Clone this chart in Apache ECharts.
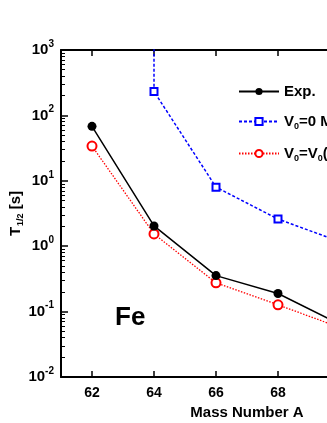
<!DOCTYPE html>
<html><head><meta charset="utf-8">
<script src="https://cdn.jsdelivr.net/npm/echarts@6/dist/echarts.min.js"></script>
<style>html,body{margin:0;padding:0;background:#fff}#c{width:327px;height:423px}</style>
</head><body><div id="c"></div>
<script>
const massNumbers = [62, 64, 66, 68, 70];
const expValues = [68, 2.04, 0.355, 0.189, 0.064];
const v0ZeroMass = [64, 64, 66, 68, 70];
const v0ZeroValues = [1e6, 232, 8.0, 2.6, 1.17];
const v0VarValues = [34, 1.54, 0.275, 0.127, 0.057];
const xTicks = [62, 64, 66, 68, 70, 72];
const seriesNames = ['Exp.', 'V0=0 MeV', 'V0=V0(A)'];

const FONT = 'Liberation Sans, Arial, sans-serif';
const minorTicks = [];
for (let d = -2; d < 3; d++) for (let k = 2; k <= 9; k++) minorTicks.push(Math.log10(k) + d);

const chart = echarts.init(document.getElementById('c'));
const bold = {fontFamily: FONT, fontWeight: 'bold', color: '#000'};
chart.setOption({
  animation: false,
  grid: {left: 61, top: 50, width: 372, height: 327, outerBoundsMode: 'none'},
  xAxis: [{
    type: 'value', min: 61, max: 73, position: 'bottom',
    name: 'Mass Number A', nameLocation: 'middle', nameGap: 28, nameMoveOverlap: false,
    nameTextStyle: Object.assign({fontSize: 15}, bold),
    axisLine: {show: true, onZero: false, lineStyle: {color: '#000', width: 2}},
    axisTick: {show: true, inside: true, length: 6, lineStyle: {color: '#000', width: 1.5}, customValues: xTicks},
    axisLabel: Object.assign({fontSize: 14, margin: 9, customValues: xTicks}, bold),
    splitLine: {show: false}
  }, {
    type: 'value', min: 61, max: 73, position: 'top',
    axisLine: {show: true, onZero: false, lineStyle: {color: '#000', width: 2}},
    axisTick: {show: true, inside: true, length: 6, lineStyle: {color: '#000', width: 1.5}, customValues: xTicks},
    axisLabel: {show: false},
    splitLine: {show: false}
  }],
  yAxis: [{
    type: 'log', min: 0.01, max: 1000, position: 'left',
    name: '{b|T}{sub|1/2}{b| [s]}', nameLocation: 'middle', nameGap: 36, nameRotate: 90, nameMoveOverlap: false,
    nameTextStyle: {rich: {
      b: Object.assign({fontSize: 15}, bold),
      sub: Object.assign({fontSize: 9, padding: [10, 0, 0, 1]}, bold)
    }},
    axisLine: {show: true, onZero: false, lineStyle: {color: '#000', width: 2}},
    axisTick: {show: true, inside: true, length: 7, lineStyle: {color: '#000', width: 1.5}},
    axisLabel: {
      margin: 7,
      formatter: function (v) {
        const e = Math.round(Math.log10(v));
        return '{b|10}{sup|' + e + '}';
      },
      rich: {
        b: Object.assign({fontSize: 15}, bold),
        sup: Object.assign({fontSize: 10, padding: [0, 0, 12, 0]}, bold)
      }
    },
    splitLine: {show: false}
  }, {
    type: 'value', min: -2, max: 3, position: 'left',
    axisLine: {show: false, onZero: false},
    axisTick: {show: true, inside: true, length: 4, lineStyle: {color: '#000', width: 1}, customValues: minorTicks},
    axisLabel: {show: false},
    splitLine: {show: false}
  }],
  legend: {
    orient: 'vertical', left: 233, top: 79, itemWidth: 40, itemHeight: 9, itemGap: 15,
    data: seriesNames,
    formatter: function (n) {
      if (n === seriesNames[0]) return '{b|Exp.}';
      if (n === seriesNames[1]) return '{b|V}{sub|0}{b|=0 MeV}';
      return '{b|V}{sub|0}{b|=V}{sub|0}{b|(A)}';
    },
    textStyle: {rich: {
      b: Object.assign({fontSize: 15}, bold),
      sub: Object.assign({fontSize: 9, padding: [10, 0, 0, 0]}, bold)
    }}
  },
  graphic: [{
    type: 'text', left: 115, top: 305,
    style: {text: 'Fe', font: 'bold 26px ' + FONT, fill: '#000'}
  }],
  series: [{
    name: seriesNames[0], type: 'line', xAxisIndex: 0, yAxisIndex: 0,
    data: massNumbers.map((m, i) => [m, expValues[i]]),
    symbol: 'circle', symbolSize: 9,
    lineStyle: {color: '#000', width: 1.5},
    itemStyle: {color: '#000'}, z: 3
  }, {
    name: seriesNames[1], type: 'line', xAxisIndex: 0, yAxisIndex: 0,
    data: v0ZeroMass.map((m, i) => i === 0 ? {value: [m, v0ZeroValues[i]], symbol: 'none'} : [m, v0ZeroValues[i]]),
    symbol: 'rect', symbolSize: 7, showAllSymbol: true,
    lineStyle: {color: '#0000ff', width: 1.5, type: [3, 2]},
    itemStyle: {color: '#fff', borderColor: '#0000ff', borderWidth: 2}, z: 2
  }, {
    name: seriesNames[2], type: 'line', xAxisIndex: 0, yAxisIndex: 0,
    data: massNumbers.map((m, i) => [m, v0VarValues[i]]),
    symbol: 'circle', symbolSize: 9,
    lineStyle: {color: '#ff0000', width: 1.3, type: [1.5, 1.5]},
    itemStyle: {color: '#fff', borderColor: '#ff0000', borderWidth: 2}, z: 2
  }]
});
</script></body></html>
